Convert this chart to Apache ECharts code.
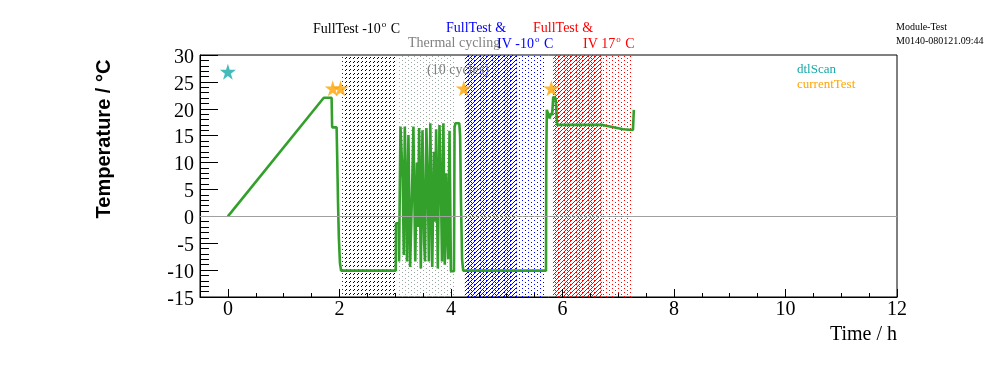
<!DOCTYPE html>
<html>
<head>
<meta charset="utf-8">
<script src="https://cdn.jsdelivr.net/npm/echarts@6/dist/echarts.min.js"></script>
<style>
html,body{margin:0;padding:0;background:#fff;}
#chart{width:996px;height:372px;}
</style>
</head>
<body>
<div id="chart"></div>
<script>
// ---------- data ----------
const timeH = [
  0, 1.72, 1.86, 1.87, 1.95, 1.96, 1.975, 1.99, 2.01, 2.03, 3.01,
  3.015, 3.065, 3.070, 3.090, 3.095, 3.130, 3.135, 3.150, 3.155, 3.168, 3.173, 3.198, 3.203, 3.212,
  3.232, 3.238, 3.262, 3.268, 3.298, 3.303, 3.322, 3.327, 3.355, 3.360, 3.385, 3.390, 3.405, 3.410,
  3.425, 3.430, 3.455, 3.460, 3.485, 3.490, 3.515, 3.520, 3.530, 3.535, 3.555, 3.560, 3.585, 3.590,
  3.600, 3.605, 3.625, 3.630, 3.660, 3.665, 3.690, 3.695, 3.710, 3.715, 3.730, 3.735, 3.760, 3.765,
  3.790, 3.795, 3.815, 3.820, 3.835, 3.840, 3.860, 3.865, 3.885, 3.890, 3.910, 3.915, 3.930, 3.935,
  3.945, 3.950, 3.965, 3.975, 3.995, 4.000, 4.055, 4.065, 4.080, 4.150, 4.165, 4.180, 4.200, 4.220,
  4.290, 4.310, 4.340, 5.705, 5.710, 5.720, 5.745, 5.770, 5.795, 5.815, 5.835, 5.880, 5.905, 6.720,
  6.750, 7.090, 7.100, 7.265, 7.280
];
const tempC = [
  0, 22.05, 22.05, 16.55, 16.55, 11.3, 2.7, -3.9, -8.7, -10.1, -10.1,
  -1.3, -1.3, -8.4, -8.4, 16.7, 16.7, 7.1, 7.1, -7.2, -7.2, 16.7, 16.7, 0.3, -8.4,
  -8.4, 15.1, 15.1, -9.4, -9.4, 4.6, 4.6, 16.7, 16.7, -8.4, -8.4, 10, 10, -2,
  -2, 16.4, 16.4, -9.7, -9.7, 16.0, 16.0, -5, -5, -8.4, -8.4, 16.4, 16.4, 3,
  3, -8.4, -8.4, 17.3, 17.3, -9.4, -9.4, 12, 12, -1, -1, 16.2, 16.2, -9.7,
  -9.7, 17.0, 17.0, 6, 6, -8.4, -8.4, 17.3, 17.3, -9.0, -9.0, 8, 8, -3,
  -3, -8, -8, 15.9, 15.9, -10.2, -10.2, 16.5, 17.3, 17.3, 15, 3, -8, -10.1,
  -10.1, -10.3, -10.1, -10.1, 11, 19.8, 20.1, 18.2, 19.2, 18.8, 22.2, 21.9, 17.0, 17.0,
  16.8, 16.2, 16.05, 16.05, 19.8
];
const dtlScanTime = [0];
const dtlScanTemp = [26.9];
const currentTestTime = [1.88, 2.02, 4.23, 5.8];
const currentTestTemp = [23.8, 23.8, 23.8, 23.8];

const phaseStart = [2.05, 3.03, 4.25, 4.25, 5.83, 5.83];
const phaseEnd   = [3.00, 4.09, 5.69, 5.18, 7.23, 6.71];
const phaseKind  = ['dash', 'dots', 'dots', 'hatch', 'dots', 'hatch'];
const phaseColor = ['#000000', '#98a69e', '#0000ff', '#0000ff', '#ff0000', '#ff0000'];

const xMajorTicks = [0, 2, 4, 6, 8, 10, 12];
const xMinorTicks = [0.5, 1, 1.5, 2.5, 3, 3.5, 4.5, 5, 5.5, 6.5, 7, 7.5, 8.5, 9, 9.5, 10.5, 11, 11.5];

// ---------- patterns ----------
function makePatternCanvas(kind, color) {
  const c = document.createElement('canvas');
  const tw = kind === 'dots' ? 6 : 4, th = 4;
  c.width = tw; c.height = th;
  const ctx = c.getContext('2d');
  ctx.fillStyle = color;
  if (kind === 'hatch') {
    ctx.fillRect(3, 0, 1, 1);
    ctx.fillRect(2, 1, 1, 1);
    ctx.fillRect(1, 2, 1, 1);
    ctx.fillRect(0, 3, 1, 1);
  } else if (kind === 'dash') {
    ctx.fillRect(2, 1, 1, 1);
    ctx.fillRect(1, 2, 1, 1);
  } else {
    ctx.fillRect(0, 0, 1, 1);
    ctx.fillRect(3, 2, 1, 1);
  }
  return c;
}
const patternFills = phaseKind.map((k, i) => ({
  image: makePatternCanvas(k, phaseColor[i]), repeat: 'repeat'
}));

const starPath = 'path://M50,0 L61,35 L98,35 L68,57 L79,91 L50,70 L21,91 L32,57 L2,35 L39,35 Z';
const serif = '"Liberation Serif", "Times New Roman", serif';

function label(text, x, y, color, size, align) {
  return {
    type: 'text', x: x, y: y, silent: true, z: 100, zlevel: 1,
    style: {
      text: text, fill: color, font: size + 'px ' + serif,
      align: align || 'left', verticalAlign: 'middle'
    }
  };
}
function supLabel(main, tail, x, y, color) {
  return {
    type: 'text', x: x, y: y, silent: true, z: 100, zlevel: 1,
    style: {
      text: '{m|' + main + '}{s|o}{m|' + tail + '}',
      align: 'left', verticalAlign: 'middle',
      rich: {
        m: { fontFamily: serif, fontSize: 14, fill: color, color: color, lineHeight: 16, verticalAlign: 'bottom' },
        s: { fontFamily: serif, fontSize: 9, fill: color, color: color, lineHeight: 16, verticalAlign: 'top', padding: [0, 1, 0, 1] }
      }
    }
  };
}

const lineData = timeH.map((t, i) => [t, tempC[i]]);
const phaseData = phaseStart.map((s, i) => [s, phaseEnd[i], i]);

const chart = echarts.init(document.getElementById('chart'), null, { renderer: 'canvas' });
const option = {
  animation: false,
  backgroundColor: '#ffffff',
  grid: {
    left: 200, right: 99, top: 55, bottom: 75,
    show: true, borderColor: '#000', borderWidth: 1, backgroundColor: 'transparent',
    containLabel: false, outerBoundsMode: 'none'
  },
  xAxis: [
    {
      type: 'value', min: -0.5, max: 12,
      axisLine: { show: true, onZero: false, lineStyle: { color: '#000', width: 1 } },
      axisTick: { show: true, inside: true, length: 8, customValues: xMajorTicks, lineStyle: { color: '#000' } },
      axisLabel: { show: true, customValues: xMajorTicks, margin: 3, color: '#000', fontFamily: serif, fontSize: 20 },
      splitLine: { show: false }
    },
    {
      type: 'value', min: -0.5, max: 12, position: 'bottom',
      axisLine: { show: false, onZero: false },
      axisTick: { show: true, inside: true, length: 4, customValues: xMinorTicks, lineStyle: { color: '#000' } },
      axisLabel: { show: false },
      splitLine: { show: false }
    }
  ],
  yAxis: {
    type: 'value', min: -15, max: 30, interval: 5,
    axisLine: { show: true, onZero: false, lineStyle: { color: '#000', width: 1 } },
    axisTick: { show: true, inside: true, length: 18, lineStyle: { color: '#000' } },
    minorTick: { show: true, splitNumber: 5, length: 9, lineStyle: { color: '#000' } },
    axisLabel: { margin: 6, color: '#000', fontFamily: serif, fontSize: 20, verticalAlign: 'top', lineHeight: 5 },
    splitLine: { show: false }
  },
  series: [
    {
      type: 'custom', name: 'phases', xAxisIndex: 0, z: 0, silent: true,
      data: phaseData,
      encode: { x: [0, 1] },
      clip: true,
      renderItem: function (params, api) {
        const p0 = api.coord([api.value(0), 0]);
        const p1 = api.coord([api.value(1), 0]);
        const cs = params.coordSys;
        return {
          type: 'rect',
          shape: { x: p0[0], y: cs.y, width: p1[0] - p0[0], height: cs.height },
          style: { fill: patternFills[api.value(2)] }
        };
      }
    },
    {
      type: 'line', name: 'zero', xAxisIndex: 0, data: [], z: 2, silent: true,
      markLine: {
        silent: true, symbol: 'none', label: { show: false },
        lineStyle: { color: '#a0a0a0', width: 1, type: 'solid' },
        data: [{ yAxis: 0 }]
      }
    },
    {
      type: 'line', name: 'temperature', xAxisIndex: 0, data: lineData, z: 3,
      showSymbol: false, symbol: 'none',
      lineStyle: { color: '#33a02c', width: 2.6 }
    },
    {
      type: 'scatter', name: 'dtlScan', xAxisIndex: 0, z: 4,
      data: dtlScanTime.map((t, i) => [t, dtlScanTemp[i]]),
      symbol: starPath, symbolSize: 16, itemStyle: { color: '#17a9a9' }
    },
    {
      type: 'scatter', name: 'currentTest', xAxisIndex: 0, z: 4,
      data: currentTestTime.map((t, i) => [t, currentTestTemp[i]]),
      symbol: starPath, symbolSize: 16, itemStyle: { color: '#ffa500' }
    }
  ],
  graphic: {
    elements: [
      supLabel('FullTest -10', ' C', 313, 28, '#000000'),
      label('Thermal cycling', 408, 43, '#808080', 14),
      label('(10 cycles)', 427, 70, '#808080', 14),
      label('FullTest &', 446, 28, '#0000ff', 14),
      supLabel('IV -10', ' C', 497, 43, '#0000ff'),
      label('FullTest &', 533, 28, '#ff0000', 14),
      supLabel('IV 17', ' C', 583, 43, '#ff0000'),
      label('Module-Test', 896, 27, '#000000', 10),
      label('M0140-080121.09:44', 896, 41, '#000000', 10),
      label('dtlScan', 797, 70, '#17a9a9', 13),
      label('currentTest', 797, 85, '#ffa500', 13),
      label('Time / h', 897, 335, '#000000', 20, 'right'),
      {
        type: 'text', x: 104, y: 139, rotation: Math.PI / 2, silent: true, z: 100, zlevel: 1,
        style: {
          text: 'Temperature / °C', fill: '#000', font: 'bold 20px "Liberation Sans", Arial, sans-serif',
          align: 'center', verticalAlign: 'middle'
        }
      }
    ]
  }
};
chart.setOption(option);
</script>
</body>
</html>
